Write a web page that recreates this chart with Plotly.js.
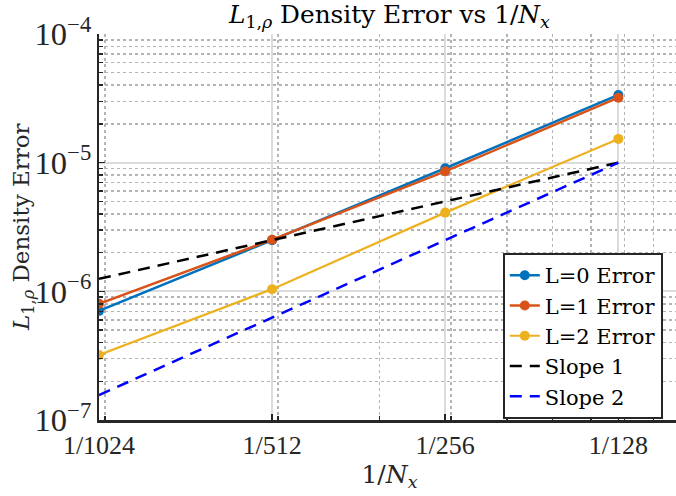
<!DOCTYPE html>
<html>
<head>
<meta charset="utf-8">
<script src="https://cdn.plot.ly/plotly-3.0.1.min.js"></script>
<style>
html,body{margin:0;padding:0;overflow:hidden;background:#fff;}
#chart{width:684px;height:496px;}
</style>
</head>
<body>
<div id="chart"></div>
<script>
// Data
const xValues = [1/1024, 1/512, 1/256, 1/128];
const xTickLabels = ['1/1024', '1/512', '1/256', '1/128'];
const xMinorTicks = [0.001, 0.002, 0.003, 0.004, 0.005, 0.006, 0.007, 0.008, 0.009];
const errL0 = [7.05e-7, 2.5e-6, 9.05e-6, 3.36e-5];
const errL1 = [8.0e-7, 2.52e-6, 8.57e-6, 3.2e-5];
const errL2 = [3.2e-7, 1.04e-6, 4.09e-6, 1.53e-5];
const slope1 = [1.25e-6, 2.5e-6, 5e-6, 1e-5];
const slope2 = [1.5625e-7, 6.25e-7, 2.5e-6, 1e-5];
const seriesNames = ['L=0 Error', 'L=1 Error', 'L=2 Error', 'Slope 1', 'Slope 2'];
const titleText = '<i>L</i><sub>1,<i>ρ</i></sub> Density Error vs 1/<i>N</i><sub><i>x</i></sub>';
const xTitleText = '1/<i>N</i><sub><i>x</i></sub>';
const yTitleText = '<i>L</i><sub>1,<i>ρ</i></sub> Density Error';

const tickFont = 'Liberation Serif';
const textFont = 'DejaVu Serif';

const traces = [
  {x: xValues, y: errL0, name: seriesNames[0], mode: 'lines+markers',
   line: {color: '#0072BD', width: 2.5}, marker: {color: '#0072BD', size: 10}},
  {x: xValues, y: errL1, name: seriesNames[1], mode: 'lines+markers',
   line: {color: '#D95319', width: 2.5}, marker: {color: '#D95319', size: 10}},
  {x: xValues, y: errL2, name: seriesNames[2], mode: 'lines+markers',
   line: {color: '#EDB120', width: 2.2}, marker: {color: '#EDB120', size: 10}},
  {x: xValues, y: slope1, name: seriesNames[3], mode: 'lines',
   line: {color: '#000000', width: 2.5, dash: '12px,8px'}},
  {x: xValues, y: slope2, name: seriesNames[4], mode: 'lines',
   line: {color: '#0000FF', width: 2.5, dash: '12px,8px'}}
];

const layout = {
  width: 684, height: 496,
  margin: {l: 99, r: 4, t: 34, b: 76},
  paper_bgcolor: '#fff', plot_bgcolor: '#fff',
  font: {family: tickFont, size: 26, color: '#262626'},
  title: {
    text: titleText,
    font: {family: textFont, size: 25, color: '#000'},
    x: 389.5 / 684, xref: 'container', xanchor: 'center',
    y: 0.965, yref: 'container', yanchor: 'middle'
  },
  xaxis: {
    type: 'log',
    range: [Math.log10(1/1024), Math.log10(0.01)],
    tickmode: 'array', tickvals: xValues, ticktext: xTickLabels,
    ticks: 'inside', ticklen: 6, tickwidth: 1.5, tickcolor: '#262626',
    showline: true, linecolor: '#262626', linewidth: 2.5,
    showgrid: true, gridcolor: '#dcdcdc', gridwidth: 2,
    zeroline: false,
    minor: {tickmode: 'array', tickvals: xMinorTicks, ticks: 'inside', ticklen: 4,
            tickcolor: '#262626', showgrid: true, gridcolor: '#b4b4b4', griddash: 'dot', gridwidth: 1.5},
    tickfont: {family: tickFont, size: 26, color: '#262626'},
    title: {text: xTitleText, font: {family: textFont, size: 25, color: '#262626'}, standoff: 6},
    automargin: false
  },
  yaxis: {
    type: 'log',
    range: [-7, -4],
    dtick: 1, exponentformat: 'power',
    ticks: 'inside', ticklen: 6, tickwidth: 1.5, tickcolor: '#262626',
    showline: true, linecolor: '#262626', linewidth: 2.5,
    showgrid: true, gridcolor: '#dcdcdc', gridwidth: 2,
    zeroline: false,
    minor: {dtick: 'D1', ticks: 'inside', ticklen: 4, tickcolor: '#262626',
            showgrid: true, gridcolor: '#b4b4b4', griddash: 'dot', gridwidth: 1.5},
    tickfont: {family: tickFont, size: 26, color: '#262626'},
    automargin: false
  },
  annotations: [{
    text: yTitleText, textangle: -90,
    xref: 'paper', yref: 'paper', x: (23 - 99) / 581, y: 0.5,
    xanchor: 'center', yanchor: 'middle', showarrow: false,
    font: {family: textFont, size: 23, color: '#262626'}
  }],
  legend: {
    x: 0.695, xanchor: 'left', y: 0.4326, yanchor: 'top',
    bgcolor: '#fff', bordercolor: '#262626', borderwidth: 2,
    font: {family: textFont, size: 21, color: '#000'},
    tracegroupgap: 0, itemwidth: 30
  },
  showlegend: true
};

const gd = document.getElementById('chart');
Plotly.newPlot(gd, traces, layout, {displayModeBar: false, staticPlot: true}).then(function () {
  // fit the title to the reference's span (x 228..550)
  const t = gd.querySelector('.g-gtitle text');
  if (!t) return;
  const r = t.getBoundingClientRect();
  if (!r.width) return;
  const size = Math.max(14, Math.min(40, 25 * 322 / r.width));
  return Plotly.relayout(gd, {'title.font.size': size}).then(function () {
    const t2 = gd.querySelector('.g-gtitle text');
    const r2 = t2.getBoundingClientRect();
    const dx = 389 - (r2.left + r2.width / 2);
    const dy = 0 - r2.top;
    return Plotly.relayout(gd, {
      'title.x': (389.5 + dx) / 684,
      'title.y': 0.965 - dy / 496
    });
  });
});
</script>
</body>
</html>
